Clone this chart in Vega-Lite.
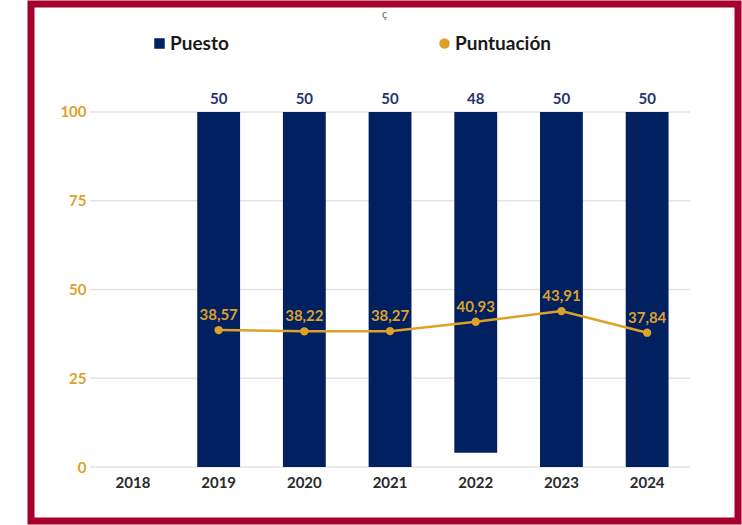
{
  "$schema": "https://vega.github.io/schema/vega-lite/v6.json",
  "width": 707,
  "height": 517,
  "autosize": {"type": "none"},
  "padding": {"left": 31, "top": 4, "right": 4, "bottom": 4},
  "background": "white",
  "title": {"text": "ç", "fontSize": 11, "fontWeight": "normal", "color": "#666666", "offset": -16, "anchor": "middle"},
  "config": {
    "view": {"stroke": "#A6002C", "strokeWidth": 7},
    "font": "Lato"
  },
  "data": {
    "values": [
      {"anio": "2018", "puesto": null, "puntuacion": null, "etiqueta": null},
      {"anio": "2019", "puesto": 50, "puntuacion": 38.57, "etiqueta": "38,57"},
      {"anio": "2020", "puesto": 50, "puntuacion": 38.22, "etiqueta": "38,22"},
      {"anio": "2021", "puesto": 50, "puntuacion": 38.27, "etiqueta": "38,27"},
      {"anio": "2022", "puesto": 48, "puntuacion": 40.93, "etiqueta": "40,93"},
      {"anio": "2023", "puesto": 50, "puntuacion": 43.91, "etiqueta": "43,91"},
      {"anio": "2024", "puesto": 50, "puntuacion": 37.84, "etiqueta": "37,84"}
    ]
  },
  "layer": [
    {
      "data": {"values": [{"v": 0}, {"v": 25}, {"v": 50}, {"v": 75}, {"v": 100}]},
      "mark": {"type": "rule", "color": "#E3E3E3", "strokeWidth": 1.5},
      "encoding": {
        "x": {"datum": "2018", "type": "ordinal", "bandPosition": -0.5,
          "scale": {"domain": ["2018", "2019", "2020", "2021", "2022", "2023", "2024"], "paddingInner": 0.5, "paddingOuter": 0.875, "align": 0.537},
          "axis": {"title": null, "orient": "bottom", "offset": -46, "domain": false, "ticks": false, "grid": false, "labelPadding": 0, "labelFontSize": 15, "labelFontWeight": "bold", "labelColor": "#2A2A2A", "labelAngle": 0}},
        "x2": {"datum": "2024", "bandPosition": 1.5},
        "y": {"field": "v", "type": "quantitative",
          "scale": {"domain": [-15.21, 130.42], "nice": false, "zero": false},
          "axis": {"title": null, "orient": "left", "offset": -55, "values": [0, 25, 50, 75, 100], "domain": false, "ticks": false, "grid": false, "labelPadding": 0, "labelFontSize": 15, "labelFontWeight": "bold", "labelColor": "#DDA12A"}}
      }
    },
    {
      "transform": [{"filter": "datum.puesto != null"}],
      "layer": [
        {
          "mark": {"type": "bar"},
          "encoding": {
            "x": {"field": "anio", "type": "ordinal"},
            "y": {"field": "puesto", "type": "quantitative",
              "scale": {"domain": [-15.21, 57.61], "reverse": true, "nice": false, "zero": false},
              "axis": null},
            "y2": {"datum": 0},
            "fill": {"datum": "Puesto", "type": "nominal",
              "scale": {"range": ["#002060"]},
              "legend": {"title": null, "orient": "none", "legendX": 119, "legendY": 30, "symbolType": "square", "symbolSize": 110, "labelFontSize": 19, "labelFontWeight": "bold", "labelColor": "#1A1A1A", "labelOffset": 1}}
          }
        },
        {
          "mark": {"type": "text", "baseline": "alphabetic", "dy": -8, "fontSize": 15, "fontWeight": "bold", "color": "#1F3470"},
          "encoding": {
            "x": {"field": "anio", "type": "ordinal"},
            "y": {"datum": 0, "type": "quantitative"},
            "text": {"field": "puesto", "type": "quantitative"}
          }
        }
      ]
    },
    {
      "transform": [{"filter": "datum.puntuacion != null"}],
      "layer": [
        {
          "mark": {"type": "line", "color": "#DDA12A", "strokeWidth": 2.5},
          "encoding": {
            "x": {"field": "anio", "type": "ordinal"},
            "y": {"field": "puntuacion", "type": "quantitative",
              "scale": {"domain": [-15.21, 130.42], "nice": false, "zero": false},
              "axis": null}
          }
        },
        {
          "mark": {"type": "point", "filled": true, "size": 70, "opacity": 1},
          "encoding": {
            "x": {"field": "anio", "type": "ordinal"},
            "y": {"field": "puntuacion", "type": "quantitative"},
            "color": {"datum": "Puntuación", "type": "nominal",
              "scale": {"range": ["#DDA12A"]},
              "legend": {"title": null, "orient": "none", "legendX": 404, "legendY": 30, "symbolType": "circle", "symbolSize": 110, "labelFontSize": 19, "labelFontWeight": "bold", "labelColor": "#1A1A1A", "labelOffset": 1}}
          }
        },
        {
          "mark": {"type": "text", "baseline": "alphabetic", "dy": -10, "fontSize": 15, "fontWeight": "bold", "color": "#DDA12A"},
          "encoding": {
            "x": {"field": "anio", "type": "ordinal"},
            "y": {"field": "puntuacion", "type": "quantitative"},
            "text": {"field": "etiqueta", "type": "nominal"}
          }
        }
      ]
    }
  ],
  "resolve": {"scale": {"y": "independent"}}
}
